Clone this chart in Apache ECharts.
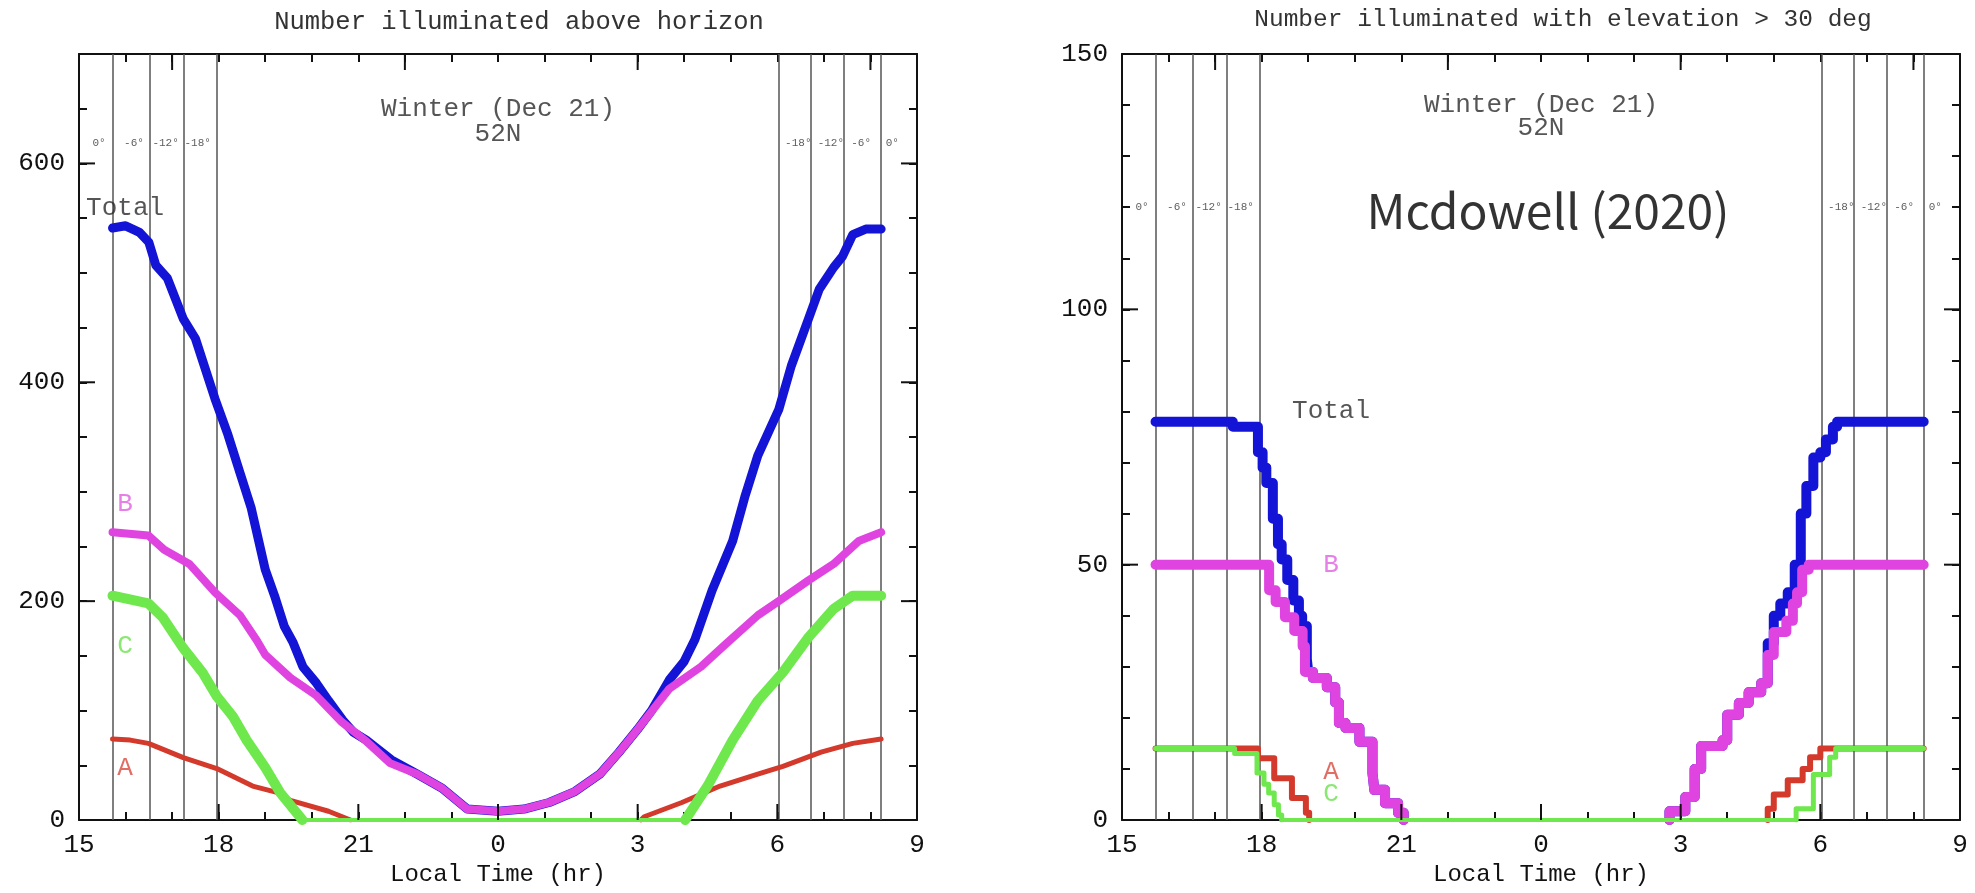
<!DOCTYPE html>
<html>
<head>
<meta charset="utf-8">
<script src="https://cdn.jsdelivr.net/npm/echarts@6/dist/echarts.min.js"></script>
<style>
html,body{margin:0;padding:0;background:#fff;}
#chart{width:1975px;height:893px;}
</style>
</head>
<body>
<div id="chart"></div>
<script>
// ---------- data (x = hours after 15:00 local time) ----------
const hourTickLabels = ['15', '18', '21', '0', '3', '6', '9'];
const bottomMajorTicks = [0, 3, 6, 9, 12, 15, 18];
const topMajorTicks = [2, 7, 12, 17];
const twilightHours = [0.72, 1.52, 2.25, 2.95, 15.02, 15.72, 16.42, 17.22];
const twilightText = ['0°', '-6°', '-12°', '-18°', '-18°', '-12°', '-6°', '0°'];
const twilightTextX = [0.43, 1.18, 1.86, 2.55, 15.45, 16.15, 16.8, 17.47];
const leftYLabels = [0, 200, 400, 600];
const rightYLabels = [0, 50, 100, 150];

// Left panel: number illuminated above horizon
const horizonTotal = [[0.72,541],[1.0,543],[1.3,537],[1.5,528],[1.65,507],[1.9,495],[2.24,458],[2.5,440],[2.92,385],[3.2,352],[3.46,317],[3.7,285],[4.0,229],[4.2,205],[4.41,177],[4.6,162],[4.81,140],[5.1,125],[5.36,109],[5.67,91],[5.9,80],[6.17,73],[6.71,55],[7.26,42],[7.8,29],[8.34,10],[9.0,8],[9.56,10],[10.1,16],[10.65,26],[11.19,42],[11.6,62],[12.0,83],[12.3,100],[12.68,128],[13.0,145],[13.23,165],[13.6,210],[14.04,255],[14.3,295],[14.58,333],[15.03,375],[15.3,415],[15.67,458],[15.9,485],[16.21,505],[16.4,515],[16.62,535],[16.9,540],[17.23,540]];
const horizonB = [[0.72,263],[1.49,260],[1.83,247],[2.37,234],[2.92,208],[3.46,187],[3.82,164],[4.0,151],[4.54,130],[5.09,114],[5.63,90],[6.17,72],[6.68,52],[7.26,42],[7.8,29],[8.34,10],[9.0,8],[9.56,10],[10.1,16],[10.65,26],[11.19,42],[11.6,62],[12.0,83],[12.68,120],[13.36,140],[13.9,161],[14.58,187],[15.03,200],[15.67,219],[16.21,234],[16.75,255],[17.23,263]];
const horizonC = [[0.72,205],[1.49,198],[1.8,185],[2.24,157],[2.65,135],[2.96,113],[3.3,95],[3.6,73],[4.0,48],[4.32,25],[4.8,0],[13.02,0],[13.5,31],[14.04,73],[14.58,109],[15.12,135],[15.67,167],[16.21,193],[16.62,205],[17.23,205]];
const horizonA = [[0.72,74],[1.1,73],[1.49,70],[2.24,57],[2.96,47],[3.73,31],[4.27,25],[4.54,18],[5.36,8],[5.83,0],[12.07,0],[12.14,3],[12.95,16],[13.77,31],[14.58,42],[15.12,49],[15.94,62],[16.62,70],[17.23,74]];

// Right panel: number illuminated with elevation > 30 deg (each point = start of a level)
const elevTotal = [[0.72,78],[2.38,77],[2.92,72],[3.02,69],[3.1,66],[3.24,59],[3.35,54],[3.43,51],[3.55,47],[3.68,43],[3.8,40],[3.87,38],[3.97,31.5],[4.0,29],[4.1,27.8],[4.4,26],[4.58,23],[4.66,19],[4.8,18],[5.1,15.3],[5.38,9.2],[5.42,5.9],[5.65,3.3],[5.93,1.4],[6.05,0],[11.76,1.7],[12.1,4.5],[12.3,10],[12.44,14.5],[12.9,15.6],[13.0,20.6],[13.25,22.9],[13.46,25],[13.73,26.8],[13.87,34.6],[14.0,40],[14.14,42.4],[14.3,44.6],[14.45,50],[14.58,60],[14.7,65.4],[14.85,71],[15.0,72],[15.12,74.5],[15.27,77],[15.36,78],[17.22,78]];
const elevB = [[0.72,50],[3.16,45],[3.3,42.7],[3.5,39.7],[3.7,37],[3.88,34],[3.93,29],[4.1,27.8],[4.4,26],[4.58,23],[4.66,19],[4.8,18],[5.1,15.3],[5.38,9.2],[5.42,5.9],[5.65,3.3],[5.93,1.4],[6.05,0],[11.76,1.7],[12.1,4.5],[12.3,10],[12.44,14.5],[12.9,15.6],[13.0,20.6],[13.25,22.9],[13.46,25],[13.73,26.8],[13.87,32.3],[14.0,36.8],[14.27,39],[14.41,42.4],[14.5,44.6],[14.61,49],[14.75,50],[17.22,50]];
const elevA = [[0.72,14],[2.92,12.1],[3.27,8.2],[3.65,4.3],[3.95,1.4],[4.02,0],[13.87,2.2],[14.0,5],[14.3,7.8],[14.62,10],[14.78,12.3],[15.0,14],[17.22,14]];
const elevC = [[0.72,14],[2.42,13],[2.9,9.2],[3.05,7],[3.15,5.3],[3.27,3],[3.36,1],[3.43,0],[14.48,2.2],[14.85,8.9],[15.2,12.3],[15.33,14],[17.22,14]];

const leftNotes = [['Winter (Dec 21)', 9, 650], ['52N', 9, 627], ['Total', 0.99, 559], ['B', 0.99, 289], ['C', 0.99, 159], ['A', 0.99, 47]];
const rightNotes = [['Winter (Dec 21)', 9, 140], ['52N', 9, 135.5], ['Total', 4.49, 80], ['B', 4.49, 50], ['A', 4.49, 9.4], ['C', 4.49, 5.1]];

// ---------- styling ----------
const MONO = '"Liberation Mono", "DejaVu Sans Mono", monospace';
const INK = '#111';
const COL = {Total: '#1414d6', B: '#e044e0', C: '#6ee84c', A: '#d33a2c', text: '#2a2a2a'};
const noteColor = {Total: '#2a2a2a', B: '#e060e0', C: '#6ee050', A: '#d84a3e'};
const LONG_TICK = 16, SHORT_TICK = 8;

const chart = echarts.init(document.getElementById('chart'), null, {renderer: 'canvas'});

const grids = [
  {left: 79, top: 54, width: 838, height: 766},
  {left: 1122, top: 54, width: 838, height: 766}
];

const xAxes = [], yAxes = [];
const AX = {color: INK, width: 2};
[0, 1].forEach(g => {
  const ymax = g === 0 ? 700 : 150;
  const minor = g === 0 ? 50 : 10;
  const majors = g === 0 ? leftYLabels : rightYLabels;
  xAxes.push({
    gridIndex: g, type: 'value', min: 0, max: 18, interval: 1, position: 'bottom',
    axisLine: {show: true, onZero: false, lineStyle: AX},
    axisTick: {show: true, inside: true, length: SHORT_TICK, lineStyle: AX},
    splitLine: {show: false},
    axisLabel: {show: true, customValues: bottomMajorTicks, margin: 12, fontFamily: MONO, fontSize: 26, color: INK,
      formatter: v => hourTickLabels[Math.round(v / 3)]},
    name: 'Local Time (hr)', nameLocation: 'middle', nameGap: 42,
    nameTextStyle: {fontFamily: MONO, fontSize: 24, color: INK}
  });
  xAxes.push({
    gridIndex: g, type: 'value', min: 0, max: 18, interval: 1, position: 'top',
    axisLine: {show: true, onZero: false, lineStyle: AX},
    axisTick: {show: true, inside: true, length: SHORT_TICK, lineStyle: AX},
    axisLabel: {show: false}, splitLine: {show: false}
  });
  yAxes.push({
    gridIndex: g, type: 'value', min: 0, max: ymax, interval: minor, position: 'left',
    axisLine: {show: true, onZero: false, lineStyle: AX},
    axisTick: {show: true, inside: true, length: SHORT_TICK, lineStyle: AX},
    axisLabel: {show: true, customValues: majors, margin: 14, fontFamily: MONO, fontSize: 26, color: INK},
    splitLine: {show: false}
  });
  yAxes.push({
    gridIndex: g, type: 'value', min: 0, max: ymax, interval: minor, position: 'right',
    axisLine: {show: true, onZero: false, lineStyle: AX},
    axisTick: {show: true, inside: true, length: SHORT_TICK, lineStyle: AX},
    axisLabel: {show: false}, splitLine: {show: false}
  });
});
const xi = g => 2 * g, yi = g => 2 * g;

const series = [];

// long (major) ticks on all four sides, positioned through the axes
function majorTickSeries(g, yMajors) {
  const data = [];
  bottomMajorTicks.forEach(v => data.push([0, v]));
  topMajorTicks.forEach(v => data.push([1, v]));
  yMajors.forEach(v => { data.push([2, v]); data.push([3, v]); });
  series.push({
    type: 'custom', xAxisIndex: xi(g), yAxisIndex: yi(g), data: data, clip: false, silent: true, z: 30,
    encode: {x: -1, y: -1},
    renderItem: (params, api) => {
      const side = api.value(0), v = api.value(1);
      const cs = params.coordSys;
      let x1, y1, x2, y2;
      if (side === 0 || side === 1) {
        const px = api.coord([v, 0])[0];
        x1 = x2 = px;
        y1 = side === 0 ? cs.y + cs.height : cs.y;
        y2 = side === 0 ? y1 - LONG_TICK : y1 + LONG_TICK;
      } else {
        const py = api.coord([0, v])[1];
        y1 = y2 = py;
        x1 = side === 2 ? cs.x : cs.x + cs.width;
        x2 = side === 2 ? x1 + LONG_TICK : x1 - LONG_TICK;
      }
      return {type: 'line', shape: {x1, y1, x2, y2}, style: {stroke: INK, lineWidth: 2}};
    }
  });
}
majorTickSeries(0, leftYLabels);
majorTickSeries(1, rightYLabels);

// split a series at its run of zero values (the night-time gap)
function zeroRun(data) {
  for (let i = 0; i < data.length - 1; i++) {
    if (data[i][1] === 0) return [i, i + 1];
  }
  return null;
}
function withGap(data) {
  const r = zeroRun(data);
  if (!r) return data;
  const [i, j] = r;
  return data.slice(0, i + 1).concat([null, [data[j][0], 0]], data.slice(j));
}
function baseline(data) {
  const r = zeroRun(data);
  return r ? [[data[r[0]][0], 0], [data[r[1]][0], 0]] : [];
}

function addLine(g, data, color, width, step, z) {
  series.push({
    type: 'line', xAxisIndex: xi(g), yAxisIndex: yi(g), data: data,
    showSymbol: false, symbol: 'none', step: step || false, smooth: false, connectNulls: false,
    lineStyle: {color: color, width: width, join: 'round', cap: 'round'},
    itemStyle: {color: color}, z: z, animation: false, silent: true
  });
}
[0, 1].forEach(g => {
  series.push({
    type: 'line', xAxisIndex: xi(g), yAxisIndex: yi(g), data: [], z: 1, silent: true,
    markLine: {
      silent: true, symbol: ['none', 'none'], animation: false,
      label: {show: false},
      lineStyle: {color: '#555', width: 1.5, type: 'solid'},
      data: twilightHours.map(h => ({xAxis: h}))
    }
  });
  const ty = g === 0 ? 619 : 120;
  series.push({
    type: 'scatter', xAxisIndex: xi(g), yAxisIndex: yi(g), symbolSize: 0, z: 5, silent: true,
    data: twilightText.map((t, i) => ({value: [twilightTextX[i], ty], name: t})),
    label: {show: true, position: 'inside', formatter: p => p.name, fontFamily: MONO, fontSize: 11, color: '#333'}
  });
});

addLine(0, horizonTotal, COL.Total, 9, false, 10);
addLine(0, horizonB, COL.B, 8, false, 11);
addLine(0, withGap(horizonA), COL.A, 5, false, 12);
addLine(0, withGap(horizonC), COL.C, 10, false, 13);
addLine(0, baseline(horizonC), COL.C, 4, false, 14);

addLine(1, withGap(elevTotal), COL.Total, 10, 'end', 10);
addLine(1, withGap(elevB), COL.B, 10, 'end', 11);
addLine(1, withGap(elevA), COL.A, 6, 'end', 12);
addLine(1, withGap(elevC), COL.C, 5, 'end', 13);
addLine(1, baseline(elevC), COL.C, 4, false, 14);

function addNotes(g, notes) {
  series.push({
    type: 'scatter', xAxisIndex: xi(g), yAxisIndex: yi(g), symbolSize: 0, z: 20, silent: true,
    data: notes.map(n => ({value: [n[1], n[2]], name: n[0],
      label: {color: noteColor[n[0]] || COL.text}})),
    label: {show: true, position: 'inside', formatter: p => p.name, fontFamily: MONO, fontSize: 26, color: COL.text}
  });
}
addNotes(0, leftNotes);
addNotes(1, rightNotes);
series.push({
  type: 'scatter', xAxisIndex: xi(1), yAxisIndex: yi(1), symbolSize: 0, z: 21, silent: true,
  data: [{value: [9.15, 119.3], name: 'Mcdowell (2020)'}],
  label: {show: true, position: 'inside', formatter: p => p.name,
    fontFamily: '"Noto Sans CJK JP", "Noto Sans", sans-serif', fontSize: 48, color: '#000'}
});

chart.setOption({
  animation: false,
  backgroundColor: '#fff',
  title: [
    {text: 'Number illuminated above horizon', left: 514, top: 4, textAlign: 'center',
      textStyle: {fontFamily: MONO, fontSize: 25.5, fontWeight: 'normal', color: '#333'}},
    {text: 'Number illuminated with elevation > 30 deg', left: 1558, top: 2, textAlign: 'center',
      textStyle: {fontFamily: MONO, fontSize: 24.5, fontWeight: 'normal', color: '#333'}}
  ],
  grid: grids,
  xAxis: xAxes,
  yAxis: yAxes,
  series: series
});
</script>
</body>
</html>
